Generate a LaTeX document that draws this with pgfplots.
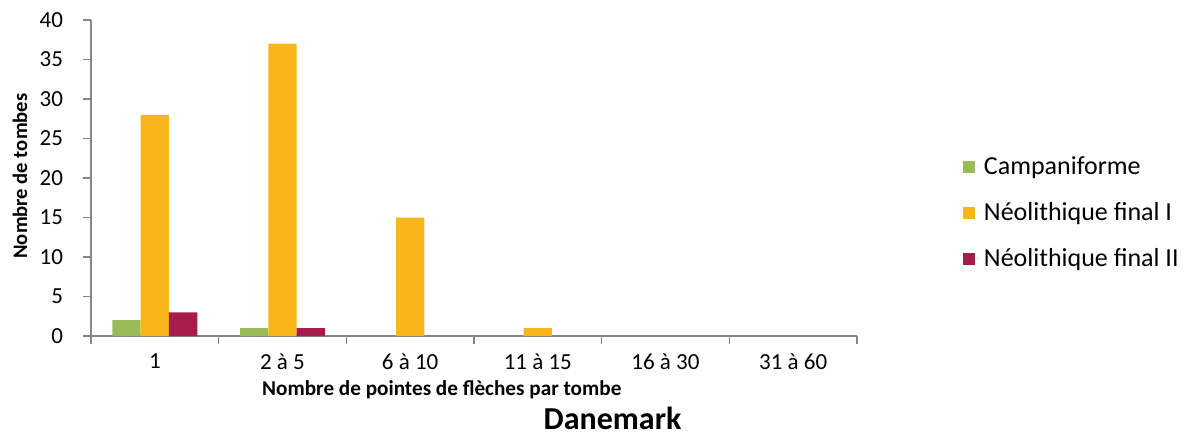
\documentclass[border=0pt]{standalone}
\usepackage{pgfplots}
\pgfplotsset{compat=1.18}
\usepackage{fontspec}
\setmainfont{Carlito}
\definecolor{campG}{HTML}{9BBB59}
\definecolor{neoY}{HTML}{F7B718}
\definecolor{neoR}{HTML}{A61C4B}
\definecolor{axgray}{HTML}{868686}

\begin{document}
\begin{tikzpicture}
\useasboundingbox (-45.5pt,-50pt) rectangle (550pt,168pt);
\begin{axis}[
  scale only axis,
  width=383pt, height=158pt,
  ybar=0pt, bar width=14.15pt,
  xmin=-0.5, xmax=5.5,
  ymin=0, ymax=40, ytick={0,5,...,40},
  xtick={0,...,5},
  xticklabels={1,2 à 5,6 à 10,11 à 15,16 à 30,31 à 60},
  major x tick style={draw=none},
  minor xtick={-0.5,0.5,...,5.5},
  tick align=outside,
  major tick length=4pt, minor tick length=4pt,
  axis x line*=bottom, axis y line*=left,
  axis line style={axgray, line width=0.8pt},
  every tick/.style={axgray, line width=0.8pt},
  tick label style={font=\fontsize{11.5}{13}\selectfont, black},
  xticklabel style={yshift=-1.5pt},
  yticklabel style={xshift=-6.5pt},
  /pgf/number format/assume math mode=true,
  xlabel={\textbf{Nombre de pointes de flèches par tombe}},
  xlabel style={at={(axis description cs:0.458,-0.17)}, anchor=center, font=\fontsize{10.6}{12}\selectfont},
  ylabel={\textbf{Nombre de tombes}},
  ylabel style={at={(axis description cs:-0.0927,0.506)}, anchor=center, font=\fontsize{10.3}{12}\selectfont},
  title={\textbf{Danemark}},
  title style={at={(axis description cs:0.681,-0.30)}, anchor=center, font=\fontsize{16}{18}\selectfont},
  legend style={at={(1.13,0.39)}, anchor=west, draw=none, fill=none,
    font=\fontsize{13}{15}\selectfont, row sep=8.5pt,
    /tikz/every even column/.append style={column sep=2pt}},
  legend cell align=left,
  legend image code/.code={\fill[#1] (0pt,-3pt) rectangle (6pt,3pt); \path (0pt,0pt) -- (8.5pt,0pt);},
]
\addplot[fill=campG, draw=none] coordinates {(0,2) (1,1)};
\addplot[fill=neoY, draw=none] coordinates {(0,28) (1,37) (2,15) (3,1)};
\addplot[fill=neoR, draw=none] coordinates {(0,3) (1,1)};
\legend{Campaniforme, Néolithique final I, Néolithique final II}
\end{axis}
\end{tikzpicture}
\end{document}
